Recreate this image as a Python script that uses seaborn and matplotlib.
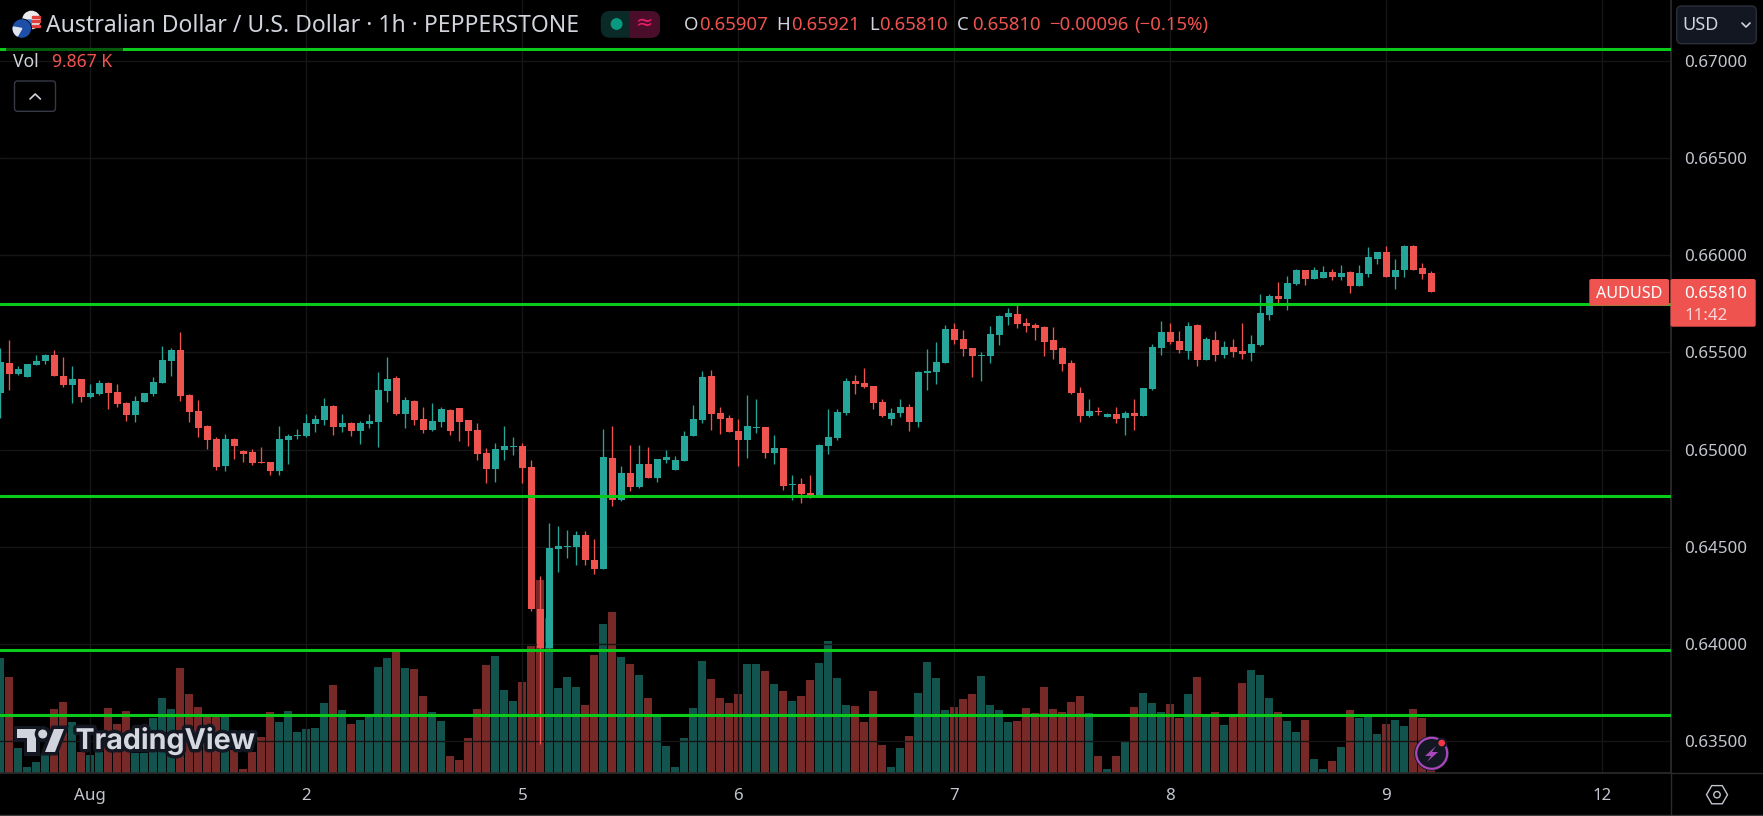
import numpy as np
import matplotlib
matplotlib.use("Agg")
import matplotlib.pyplot as plt
import matplotlib.patheffects as pe
from matplotlib.patches import Circle, FancyBboxPatch, Polygon, Rectangle, Wedge
import seaborn as sns

# hourly AUD/USD, prices in points (1e-5)
opens = [
    65291, 65445, 65389, 65373, 65435, 65456, 65487, 65378, 65332, 65363,
    65270, 65286, 65342, 65296, 65239, 65177, 65244, 65286, 65342, 65456,
    65512, 65280, 65198, 65121, 65054, 64914, 65054, 64992, 64987, 64935,
    64935, 64889, 65048, 65069, 65069, 65131, 65152, 65224, 65115, 65136,
    65095, 65131, 65141, 65301, 65368, 65182, 65249, 65157, 65100, 65141,
    65203, 65213, 65152, 65100, 64981, 64899, 64997, 65012, 65018, 64909,
    64177, 63976, 64487, 64497, 64497, 64559, 64430, 64384, 64956, 64739,
    64878, 64806, 64925, 64853, 64945, 64894, 64940, 65069, 65152, 65378,
    65188, 65162, 65095, 65048, 65110, 65115, 64981, 65007, 64817, 64822,
    64775, 64760, 65018, 65059, 65188, 65353, 65342, 65327, 65244, 65157,
    65187, 65218, 65141, 65394, 65399, 65445, 65620, 65569, 65522, 65481,
    65481, 65589, 65682, 65698, 65651, 65641, 65631, 65564, 65522, 65445,
    65291, 65172, 65198, 65167, 65182, 65162, 65187, 65172, 65311, 65522,
    65605, 65559, 65507, 65641, 65461, 65564, 65486, 65528, 65507, 65497,
    65538, 65693, 65791, 65775, 65853, 65924, 65878, 65883, 65914, 65888,
    65914, 65842, 65904, 65981, 66017, 65888, 65924, 66048, 65935, 65907,
]
highs = [
    65523, 65564, 65430, 65440, 65487, 65492, 65512, 65476, 65430, 65363,
    65337, 65358, 65347, 65337, 65244, 65275, 65291, 65373, 65533, 65523,
    65605, 65286, 65255, 65126, 65064, 65079, 65059, 64997, 65002, 65012,
    64935, 65121, 65079, 65105, 65182, 65177, 65265, 65229, 65182, 65141,
    65146, 65182, 65399, 65476, 65378, 65270, 65255, 65219, 65239, 65219,
    65208, 65213, 65152, 65136, 65007, 65033, 65121, 65064, 65033, 64945,
    64347, 64621, 64605, 64585, 64579, 64579, 64538, 65105, 65121, 64914,
    65023, 65023, 65012, 64951, 64997, 64966, 65095, 65229, 65404, 65409,
    65219, 65177, 65157, 65280, 65260, 65115, 65074, 65007, 64868, 64853,
    64868, 65028, 65208, 65208, 65368, 65383, 65420, 65327, 65260, 65213,
    65260, 65234, 65404, 65517, 65553, 65641, 65651, 65615, 65522, 65502,
    65636, 65693, 65729, 65749, 65677, 65651, 65636, 65631, 65528, 65461,
    65321, 65260, 65218, 65187, 65218, 65198, 65260, 65316, 65543, 65662,
    65651, 65610, 65657, 65646, 65579, 65610, 65559, 65569, 65651, 65589,
    65801, 65801, 65863, 65894, 65930, 65925, 65940, 65945, 65929, 65950,
    65919, 65950, 66043, 66017, 66048, 65981, 66053, 66053, 65960, 65921,
]
lows = [
    65162, 65306, 65383, 65373, 65435, 65440, 65378, 65322, 65239, 65244,
    65265, 65280, 65208, 65219, 65146, 65141, 65244, 65275, 65342, 65378,
    65249, 65141, 65064, 65002, 64894, 64889, 64951, 64935, 64920, 64930,
    64868, 64868, 64925, 65054, 65064, 65090, 65126, 65074, 65090, 65069,
    65028, 65110, 65012, 65244, 65177, 65110, 65126, 65085, 65095, 65115,
    65074, 65043, 65018, 64945, 64827, 64832, 64945, 64971, 64827, 64167,
    63481, 63976, 64368, 64440, 64404, 64404, 64358, 64384, 64708, 64734,
    64786, 64801, 64853, 64832, 64930, 64894, 64940, 65069, 65136, 65100,
    65079, 65090, 64914, 64956, 65085, 64956, 64925, 64791, 64739, 64724,
    64749, 64760, 64976, 65048, 65177, 65286, 65316, 65208, 65167, 65126,
    65167, 65095, 65115, 65306, 65337, 65445, 65543, 65481, 65373, 65352,
    65445, 65538, 65641, 65626, 65605, 65564, 65481, 65466, 65404, 65285,
    65141, 65167, 65177, 65167, 65136, 65074, 65100, 65172, 65306, 65486,
    65543, 65497, 65466, 65430, 65461, 65455, 65471, 65476, 65466, 65455,
    65533, 65667, 65744, 65718, 65848, 65847, 65878, 65883, 65873, 65873,
    65806, 65842, 65888, 65955, 65888, 65826, 65888, 65924, 65878, 65810,
]
closes = [
    65451, 65389, 65414, 65440, 65456, 65487, 65378, 65332, 65363, 65270,
    65291, 65342, 65291, 65234, 65177, 65249, 65291, 65347, 65461, 65512,
    65275, 65193, 65110, 65048, 64909, 65054, 65018, 64976, 64930, 64930,
    64889, 65054, 65069, 65074, 65136, 65157, 65224, 65115, 65136, 65095,
    65136, 65146, 65306, 65363, 65182, 65255, 65152, 65100, 65146, 65208,
    65095, 65141, 65095, 64976, 64899, 65002, 65018, 65018, 64904, 64177,
    63976, 64492, 64502, 64500, 64559, 64430, 64384, 64961, 64739, 64878,
    64806, 64925, 64853, 64951, 64961, 64945, 65069, 65157, 65373, 65182,
    65157, 65090, 65048, 65121, 65115, 64981, 65007, 64811, 64822, 64770,
    64760, 65023, 65064, 65193, 65353, 65337, 65322, 65239, 65172, 65187,
    65218, 65141, 65399, 65404, 65450, 65620, 65564, 65517, 65481, 65486,
    65595, 65687, 65703, 65646, 65636, 65626, 65553, 65512, 65440, 65291,
    65172, 65198, 65193, 65182, 65157, 65187, 65172, 65316, 65528, 65605,
    65553, 65512, 65636, 65461, 65569, 65486, 65528, 65502, 65492, 65543,
    65703, 65791, 65775, 65858, 65925, 65878, 65924, 65914, 65888, 65909,
    65842, 65909, 65991, 66017, 65888, 65924, 66048, 65924, 65904, 65810,
]
# volume in thousands
volumes = [
    43.6, 37.9, 16.6, 10.9, 12.4, 14.5, 28.3, 30.4, 24.4, 15.5,
    14.5, 15.5, 28.6, 23.8, 27.7, 15.0, 15.0, 25.6, 31.6, 28.3,
    40.6, 32.8, 28.9, 26.2, 26.5, 26.2, 16.0, 10.3, 15.4, 19.9,
    27.4, 24.4, 27.7, 21.4, 22.3, 22.6, 30.1, 35.5, 28.0, 23.8,
    25.0, 26.2, 40.9, 43.6, 45.4, 40.6, 40.3, 32.2, 27.4, 24.7,
    14.2, 13.0, 19.6, 28.3, 41.5, 44.2, 34.0, 30.7, 36.4, 47.2,
    67.0, 55.6, 34.6, 37.9, 34.9, 29.5, 44.5, 53.8, 57.4, 43.9,
    41.8, 38.5, 31.6, 26.5, 17.2, 10.9, 19.6, 28.6, 42.7, 37.3,
    31.6, 30.1, 32.8, 41.8, 41.8, 39.7, 35.8, 33.7, 30.7, 32.2,
    37.0, 42.1, 48.7, 37.6, 29.5, 29.2, 24.4, 33.7, 17.5, 10.9,
    16.6, 20.2, 33.1, 42.4, 37.6, 28.0, 28.9, 31.3, 32.8, 38.2,
    29.5, 28.0, 24.4, 24.7, 28.6, 27.1, 34.9, 28.3, 27.4, 30.4,
    32.2, 27.1, 14.2, 10.3, 14.2, 18.4, 28.9, 33.1, 30.1, 27.4,
    29.8, 25.6, 32.8, 37.9, 26.5, 27.4, 23.5, 26.5, 36.1, 40.0,
    38.5, 31.6, 27.4, 24.7, 21.4, 25.0, 13.3, 10.3, 12.7, 16.9,
    28.0, 25.6, 26.2, 20.8, 23.8, 25.0, 23.2, 28.3, 25.6, 9.867,
]
# horizontal levels drawn by hand on the chart
levels = [0.67061, 0.65748, 0.64762, 0.63965, 0.63631]
price_ticks = [0.635, 0.64, 0.645, 0.65, 0.655, 0.66, 0.665, 0.67]
date_ticks = [10, 34, 58, 82, 106, 130, 154, 178]
date_labels = ["Aug", "2", "5", "6", "7", "8", "9", "12"]

UP = "#26a69a"
DOWN = "#ef5350"
LEVEL = "#0acb1a"
GRID = "#151515"
BORDER = "#2b2b2b"
LABEL = "#c3c6ce"
PANEL = "#131722"

sns.set_theme(style="dark", rc={"figure.facecolor": "black", "axes.facecolor": "black"})
plt.rcParams["font.family"] = ["Noto Sans", "DejaVu Sans"]

W, H = 1763, 816
PANE_W, PANE_H = 1670.5, 773.3

o = np.array(opens) / 1e5
h = np.array(highs) / 1e5
l = np.array(lows) / 1e5
c = np.array(closes) / 1e5
idx = np.arange(len(o))
rising = c >= o
bar_colors = np.where(rising, UP, DOWN)

fig = plt.figure(figsize=(W / 100, H / 100), dpi=100)
rect = [0, 1 - PANE_H / H, PANE_W / W, PANE_H / H]

# volume sits behind the candles on its own scale
ax_vol = fig.add_axes(rect, zorder=1)
sns.barplot(
    x=idx, y=volumes, hue=np.where(rising, "up", "down"),
    palette={"up": UP, "down": DOWN}, hue_order=["up", "down"],
    native_scale=True, dodge=False, width=8 / 9, saturation=1, alpha=0.5,
    errorbar=None, legend=False, linewidth=0, ax=ax_vol,
)
ax_vol.set_xlim(-0.033, 185.58)
ax_vol.set_ylim(9, 241)
ax_vol.axis("off")

ax = fig.add_axes(rect, zorder=2)
ax.patch.set_alpha(0)
ax.set_axisbelow(True)
ax.grid(True, color=GRID, lw=1)
ax.vlines(idx, l, h, colors=bar_colors, lw=0.95, zorder=2)
ax.bar(idx, np.maximum(np.abs(c - o), 0.00006), bottom=np.minimum(o, c),
       width=7 / 9, color=bar_colors, linewidth=0, zorder=3)
for level in levels:
    ax.axhline(level, color=LEVEL, lw=2.2, zorder=4)

ax.set_xlim(-0.033, 185.58)
ax.set_ylim(0.63332, 0.67316)
ax.yaxis.tick_right()
ax.set_yticks(price_ticks)
ax.set_yticklabels([f"{t:.5f}" for t in price_ticks])
ax.set_xticks(date_ticks)
ax.set_xticklabels(date_labels)
ax.tick_params(axis="y", length=0, pad=9.7, labelsize=12.2, labelcolor=LABEL)
ax.tick_params(axis="x", length=0, pad=10.6, labelsize=12.2, labelcolor=LABEL)
for s in ax.spines.values():
    s.set_visible(False)
ax.spines["right"].set_visible(True)
ax.spines["bottom"].set_visible(True)
ax.spines["right"].set_color(BORDER)
ax.spines["bottom"].set_color(BORDER)

# screen furniture, in pixel coordinates
ui = fig.add_axes([0, 0, 1, 1], zorder=5)
ui.set_xlim(0, W)
ui.set_ylim(H, 0)
ui.axis("off")
ui.patch.set_alpha(0)


def txt(x, y, s, color=LABEL, size=12.2, **kw):
    kw.setdefault("va", "center")
    return ui.text(x, y, s, color=color, fontsize=size, **kw)


def box(x0, y0, x1, y1, r=3, **kw):
    ui.add_patch(FancyBboxPatch((x0 + r, y0 + r), x1 - x0 - 2 * r, y1 - y0 - 2 * r,
                                boxstyle=f"round,pad={r},rounding_size={r}", **kw))


ui.plot([PANE_W, PANE_W], [PANE_H, H], color=BORDER, lw=1)
ui.plot([PANE_W, W], [PANE_H, PANE_H], color=BORDER, lw=1)
ui.plot([0, W], [815, 815], color="#3a3a3a", lw=1)

# flags
ui.add_patch(Circle((31.4, 20), 8.6, color="#ececec"))
ui.add_patch(Wedge((31.4, 20), 8.6, 90, 180, color="#3f7fd6"))
for y in (15.5, 20, 24.5):
    ui.add_patch(Rectangle((32, y), 7.5, 2.2, color="#e0403c"))
ui.add_patch(Circle((21.8, 28.5), 9.4, color="black"))
ui.add_patch(Circle((21.8, 28.5), 8.6, color="#1d4fa8"))
ui.add_patch(Wedge((21.8, 28.5), 8.6, 120, 190, color="#dfe3ee"))

txt(46, 26, "Australian Dollar / U.S. Dollar · 1h · PEPPERSTONE", color="#d1d4dc", size=16.55)

# status pill
box(600.8, 11, 660, 37.7, r=9, fc="#0a2a28", ec="none")
ui.add_patch(Rectangle((630.4, 11), 20, 26.7, color="#4a0d2a", lw=0))
box(636, 11, 660, 37.7, r=9, fc="#4a0d2a", ec="none")
ui.add_patch(Circle((616.6, 24), 5.2, color="#089981"))
txt(644.3, 23, "≈", color="#e91e63", size=15, ha="center", family=["DejaVu Sans"])

# OHLC legend
for x, s in [(684.2, "O"), (776.7, "H"), (868.9, "L"), (957, "C")]:
    txt(x, 25, s, color="#d1d4dc", size=13.4)
for x, s in [(699.2, "0.65907"), (791, "0.65921"), (879.6, "0.65810"), (971.7, "0.65810"),
             (1048.8, "−0.00096"), (1133.8, "(−0.15%)")]:
    txt(x, 25, s, color=DOWN, size=13.4)

ui.add_patch(Rectangle((5.7, 47.5), 116.8, 4, color="black", alpha=0.55, lw=0))
txt(13.4, 62, "Vol", color="#d1d4dc", size=12.6)
txt(51.7, 62, "9.867 K", color=DOWN, size=12.6)
box(14.5, 81, 55.5, 111.3, r=3, fc="none", ec="#363a45", lw=1)
ui.plot([30, 35.2, 40.4], [99, 94, 99], color="#d1d4dc", lw=1.2)

# currency button
box(1676.7, 6, 1756.3, 43.7, r=5, fc=PANEL, ec="#2a2e39", lw=1)
txt(1682, 25, "USD", color="#d1d4dc", size=13)
ui.plot([1742, 1746, 1750], [23, 27, 23], color="#d1d4dc", lw=1.2)

# last price tags
box(1589.3, 279, 1669, 305.7, r=2, fc=DOWN, ec="none")
box(1670.5, 279, 1755.7, 326.7, r=2, fc=DOWN, ec="none")
txt(1629, 293.5, "AUDUSD", color="white", size=11.6, ha="center")
txt(1684, 293.5, "0.65810", color="white", size=12.2)
txt(1684, 315.5, "11:42", color="#fbd5d4", size=12.2)

# watermark
logo_pe = [pe.withStroke(linewidth=5, foreground=PANEL)]
for pts in ([(17, 729), (36, 729), (36, 752), (27, 752), (27, 738), (17, 738)],
            [(64, 729), (55, 752), (45, 752), (54, 729)]):
    ui.add_patch(Polygon(pts, fc="#d1d4dc", ec="none", path_effects=logo_pe))
ui.add_patch(Circle((42.7, 734), 4.5, fc="#d1d4dc", ec="none", path_effects=logo_pe))
txt(75.5, 741, "TradingView", color="#d6d8e0", size=20.6, family=["Inter", "DejaVu Sans"],
    weight="bold", path_effects=logo_pe)

# lightning badge
ui.add_patch(Circle((1431.7, 753.3), 17.5, fc=PANEL, ec="none"))
ui.add_patch(Circle((1431.7, 753.3), 15.5, fc=PANEL, ec="#ab47bc", lw=1.6))
ui.add_patch(Polygon([(1436, 746), (1425, 756), (1431, 756), (1427, 762), (1438, 752), (1432, 752)],
                     fc="#ab47bc", ec="none"))
ui.add_patch(Circle((1441.7, 743), 4.4, fc="#f23645", ec=PANEL, lw=1.5))

# settings hexagon
ang = np.deg2rad(np.arange(0, 360, 60))
ui.add_patch(Polygon(np.c_[1717 + 10.5 * np.cos(ang), 794.7 + 10.5 * np.sin(ang)],
                     fc="none", ec="#c3c6ce", lw=1))
ui.add_patch(Circle((1717, 794.7), 3.2, fc="none", ec="#c3c6ce", lw=1))

fig.savefig("out.png", dpi=100, facecolor="black")
